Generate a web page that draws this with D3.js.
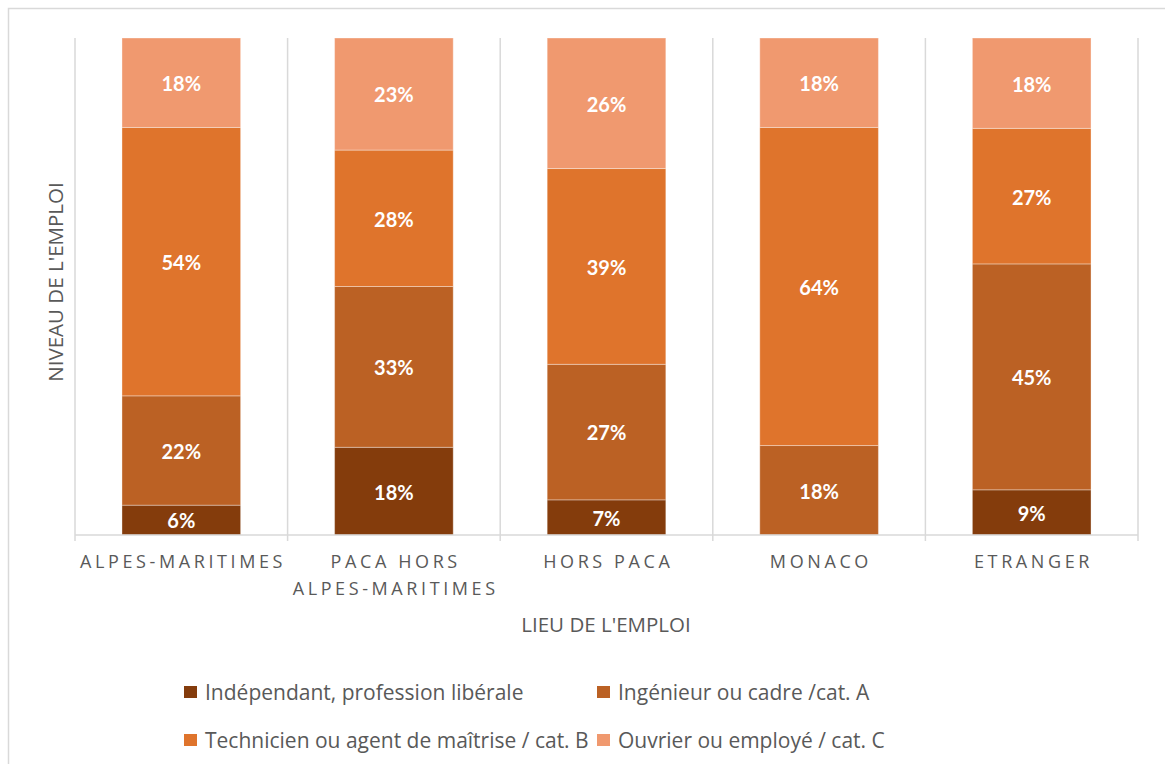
<!DOCTYPE html>
<html>
<head>
<meta charset="utf-8">
<script src="https://cdn.jsdelivr.net/npm/d3@7"></script>
<style>
	body { margin: 0; background: #fff; }
	text { font-family: 'Open Sans', sans-serif; }
</style>
</head>
<body>
<svg id="chart"></svg>
<script>
// categories (x axis), one entry per line of the tick label
const categories = ['ALPES-MARITIMES', 'PACA HORS ALPES-MARITIMES', 'HORS PACA', 'MONACO', 'ETRANGER'];
const categoryLines = [['ALPES-MARITIMES'], ['PACA HORS', 'ALPES-MARITIMES'], ['HORS PACA'], ['MONACO'], ['ETRANGER']];

const seriesNames = [
	'Indépendant, profession libérale',
	'Ingénieur ou cadre /cat. A',
	'Technicien ou agent de maîtrise / cat. B',
	'Ouvrier ou employé / cat. C',
];
const seriesColors = ['#843c0c', '#bb6124', '#df742c', '#f0996f'];

// percentages per category, as printed on the bars
const independant = [6, 18, 7, 0, 9];
const ingenieur = [22, 33, 27, 18, 45];
const technicien = [54, 28, 39, 64, 27];
const ouvrier = [18, 23, 26, 18, 18];

const seriesValues = [independant, ingenieur, technicien, ouvrier];

const width = 1165;
const height = 764;
const margin = { top: 38, right: 27, bottom: 229, left: 75 };
const innerW = width - margin.left - margin.right;
const innerH = height - margin.top - margin.bottom;

const rows = categories.map((c, i) => {
	const row = { cat: c };
	seriesNames.forEach((s, j) => (row[s] = seriesValues[j][i]));
	return row;
});

const stack = d3.stack().keys(seriesNames).offset(d3.stackOffsetExpand);
const stacked = stack(rows);

const svg = d3.select('#chart').attr('width', width).attr('height', height);

// outer chart border
svg.append('rect')
	.attr('x', 8.5)
	.attr('y', 8.5)
	.attr('width', width + 20)
	.attr('height', height + 20)
	.attr('fill', 'none')
	.attr('stroke', '#d9d9d9')
	.attr('stroke-width', 1.5);

const g = svg.append('g').attr('transform', `translate(${margin.left},${margin.top})`);

const xCell = d3.scaleBand().domain(categories).range([0, innerW]);
const xScale = d3.scaleBand().domain(categories).range([0, innerW]).paddingInner(0.442).paddingOuter(0.221);
const yScale = d3.scaleLinear().domain([0, 1]).range([innerH, 0]);
const color = d3.scaleOrdinal().domain(seriesNames).range(seriesColors);

// vertical gridlines at category boundaries
const bounds = categories.map((c) => xCell(c)).concat([innerW]);
g.selectAll('.grid')
	.data(bounds)
	.join('line')
	.attr('class', 'grid')
	.attr('x1', (d) => d)
	.attr('x2', (d) => d)
	.attr('y1', 0)
	.attr('y2', innerH + 6)
	.attr('stroke', '#d9d9d9')
	.attr('stroke-width', 1.5);

// bars
const layers = g.selectAll('.layer')
	.data(stacked)
	.join('g')
	.attr('class', 'layer')
	.attr('fill', (d) => color(d.key));

layers.selectAll('rect')
	.data((d) => d.map((v, i) => ({ v, i, key: d.key })))
	.join('rect')
	.attr('x', (d) => xScale(categories[d.i]))
	.attr('width', xScale.bandwidth())
	.attr('y', (d) => yScale(d.v[1]))
	.attr('height', (d) => yScale(d.v[0]) - yScale(d.v[1]))
	.attr('stroke', 'rgba(255,255,255,0.35)')
	.attr('stroke-width', 1);

// data labels
layers.selectAll('text')
	.data((d, j) => d.map((v, i) => ({ v, i, val: seriesValues[j][i] })).filter((d) => d.val > 0))
	.join('text')
	.attr('x', (d) => xScale(categories[d.i]) + xScale.bandwidth() / 2)
	.attr('y', (d) => (yScale(d.v[0]) + yScale(d.v[1])) / 2)
	.attr('dy', '0.42em')
	.attr('text-anchor', 'middle')
	.attr('fill', '#fff')
	.style('font-family', 'Lato, sans-serif')
	.style('font-weight', 700)
	.style('font-size', '20px')
	.text((d) => d.val + '%');

// x axis line
g.append('line')
	.attr('x1', 0)
	.attr('x2', innerW)
	.attr('y1', innerH)
	.attr('y2', innerH)
	.attr('stroke', '#d9d9d9')
	.attr('stroke-width', 1.5);

// category labels
const catLabels = g.selectAll('.cat-label')
	.data(categoryLines)
	.join('text')
	.attr('class', 'cat-label')
	.attr('text-anchor', 'middle')
	.attr('fill', '#595959')
	.style('font-size', '18px')
	.style('letter-spacing', '3.6px');

catLabels.selectAll('tspan')
	.data((d, i) => d.map((line) => ({ line, i })))
	.join('tspan')
	.attr('x', (d) => xCell(categories[d.i]) + xCell.bandwidth() / 2 + 1.8)
	.attr('y', (d, k) => innerH + 33 + k * 27)
	.text((d) => d.line);

// axis titles
svg.append('text')
	.attr('x', 606)
	.attr('y', 632)
	.attr('text-anchor', 'middle')
	.attr('fill', '#595959')
	.style('font-size', '20.5px')
	.text("LIEU DE L'EMPLOI");

svg.append('text')
	.attr('transform', 'translate(63,282) rotate(-90)')
	.attr('text-anchor', 'middle')
	.attr('fill', '#595959')
	.style('font-size', '20.5px')
	.text("NIVEAU DE L'EMPLOI");

// legend, two columns
const legendX = [184, 597];
const legendY = [692, 740];
const legend = svg.selectAll('.legend-item')
	.data(seriesNames)
	.join('g')
	.attr('class', 'legend-item')
	.attr('transform', (d, i) => `translate(${legendX[i % 2]},${legendY[Math.floor(i / 2)]})`);

legend.append('rect')
	.attr('x', 0)
	.attr('y', -6)
	.attr('width', 13)
	.attr('height', 12)
	.attr('fill', (d) => color(d));

legend.append('text')
	.attr('x', 21)
	.attr('dy', '0.36em')
	.attr('fill', '#595959')
	.style('font-size', '21px')
	.text((d) => d);
</script>
</body>
</html>
